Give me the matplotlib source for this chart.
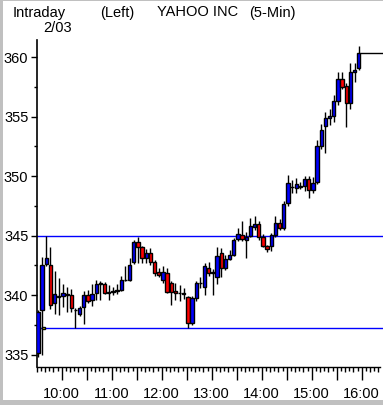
import matplotlib
matplotlib.use("Agg")
import matplotlib.pyplot as plt
import numpy as np
from matplotlib.markers import TICKDOWN
from matplotlib.patches import Rectangle

W, H, DPI = 383, 405, 100

title_left = "Intraday"
title_date = "2/03"
title_side = "(Left)"
title_name = "YAHOO INC"
title_freq = "(5-Min)"

hour_labels = ["10:00", "11:00", "12:00", "13:00", "14:00", "15:00", "16:00"]
price_ticks = [335, 340, 345, 350, 355, 360]
ref_level = 345.0
prev_close = 337.2

# 5-minute bars, 9:30 .. 15:55
opens = [335.1, 338.7, 342.6, 342.5, 339.3, 339.8, 339.95, 340.1, 340.0, 338.7,
         338.4, 339.0, 340.0, 339.6, 340.2, 340.9, 340.9, 340.2, 340.25, 340.35,
         340.4, 341.25, 341.3, 342.8, 344.45, 344.0, 343.1, 343.5, 342.8, 341.9,
         341.3, 341.85, 341.0, 340.3, 340.2, 340.15, 339.8, 337.65, 339.75, 341.0,
         340.7, 342.3, 341.85, 341.5, 343.5, 342.3, 343.05, 343.4, 344.7, 345.05,
         344.65, 344.95, 345.75, 346.0, 344.85, 344.1, 344.1, 345.05, 346.05, 345.6,
         347.7, 349.05, 349.0, 349.05, 349.2, 349.75, 348.8, 349.5, 352.5, 354.2,
         354.9, 355.05, 356.3, 358.15, 357.6, 356.1, 358.7, 359.05]
highs = [338.7, 343.2, 345.0, 344.0, 342.0, 341.4, 340.9, 340.7, 340.5, 338.9,
         339.1, 340.3, 340.4, 340.9, 341.3, 341.2, 341.1, 340.8, 340.7, 340.9,
         341.6, 342.4, 343.1, 344.6, 344.9, 344.1, 343.9, 343.95, 342.9, 342.3,
         342.4, 342.3, 341.2, 341.0, 340.8, 340.6, 339.9, 339.9, 341.2, 341.5,
         342.7, 342.8, 342.2, 344.0, 343.95, 343.4, 343.8, 344.8, 345.6, 346.2,
         345.3, 346.5, 346.6, 346.2, 345.1, 344.2, 345.2, 346.6, 346.4, 347.9,
         350.1, 349.7, 349.8, 349.5, 350.0, 350.0, 349.9, 353.0, 354.4, 355.4,
         355.6, 356.85, 358.7, 358.7, 357.8, 359.5, 359.5, 360.9]
lows = [334.8, 335.0, 342.4, 338.8, 338.4, 338.3, 339.0, 338.6, 338.6, 337.2,
        338.2, 337.6, 339.3, 339.1, 339.6, 339.6, 340.1, 339.6, 340.0, 340.1,
        340.3, 341.2, 341.2, 342.6, 342.7, 342.7, 342.7, 342.5, 341.6, 341.5,
        341.0, 340.2, 339.2, 339.6, 339.5, 339.7, 337.2, 337.5, 339.5, 340.6,
        340.0, 341.6, 340.0, 340.9, 341.5, 342.1, 342.9, 343.3, 344.5, 344.5,
        343.1, 344.9, 345.5, 344.6, 344.0, 343.6, 343.7, 344.9, 345.5, 345.5,
        347.5, 348.6, 348.55, 348.9, 348.7, 348.15, 348.6, 349.3, 352.3, 351.9,
        354.3, 354.5, 356.0, 357.3, 354.1, 355.6, 357.9, 358.9]
closes = [338.6, 342.5, 343.1, 339.2, 340.1, 339.9, 340.2, 340.0, 338.9, 338.7,
          338.9, 340.0, 339.5, 340.1, 340.9, 341.0, 340.2, 340.25, 340.35, 340.4,
          341.3, 341.3, 342.55, 344.45, 344.0, 343.1, 343.5, 342.8, 341.85, 341.65,
          341.9, 340.25, 340.25, 340.2, 340.15, 340.1, 337.65, 339.75, 341.0, 341.05,
          342.45, 341.85, 341.9, 343.3, 342.3, 343.0, 343.4, 344.65, 345.1, 344.7,
          344.9, 345.8, 346.0, 344.9, 344.1, 343.9, 345.05, 346.05, 345.6, 347.65,
          349.4, 349.1, 349.3, 349.2, 349.75, 348.85, 349.45, 352.5, 353.85, 354.9,
          355.05, 356.3, 358.15, 357.5, 356.1, 358.7, 358.95, 360.3]

plt.rcParams["font.family"] = ["Liberation Sans", "DejaVu Sans"]
FS = 10.5

o = np.array(opens)
h = np.array(highs)
l = np.array(lows)
c = np.array(closes)
minutes = 5 * np.arange(len(o))
centers = minutes + 1.5
colors = np.where(c >= o, "#0000ff", "#ff0000")

fig = plt.figure(figsize=(W / DPI, H / DPI), dpi=DPI)
ax_l, ax_r, ax_t, ax_b = 36.7, 380.0, 40.0, 367.0
ax = fig.add_axes([ax_l / W, 1 - ax_b / H, (ax_r - ax_l) / W, (ax_b - ax_t) / H])

px_per_min = 50 / 60
ax.set_xlim(0, (ax_r - ax_l) / px_per_min)
ax.set_ylim(333.95, 361.43)

ax.axhline(ref_level, color="#0000ff", lw=1, zorder=1, xmax=1.01, clip_on=False)
ax.axhline(prev_close, color="#0000ff", lw=1, zorder=1, xmax=1.01, clip_on=False)

ax.vlines(centers, l, h, color="black", lw=1, zorder=2)
ax.bar(centers, c - o, bottom=o, width=4, color=colors, edgecolor="black",
       linewidth=1, zorder=3)

# previous close marker
ax.add_patch(Rectangle((minutes[1] + 1, prev_close - 0.02), 4.5, 0.17,
                       facecolor="#ffff00", edgecolor="black", lw=1, zorder=4))

# last price line
ax.hlines(c[-1], centers[-1] + 2, ax.get_xlim()[1] + 4, color="black", lw=1,
          zorder=4, clip_on=False)

for s in ("top", "right"):
    ax.spines[s].set_visible(False)
ax.spines["left"].set_linewidth(1.2)
ax.spines["bottom"].set_linewidth(1)

# x ticks: long every 30 min, medium every 10, short every 5
hour_mins = [(int(s.split(":")[0]) - 9) * 60 - 30 for s in hour_labels]
major = np.arange(30, ax.get_xlim()[1], 30)
labels = [hour_labels[hour_mins.index(m)] if m in hour_mins else "" for m in major]
ax.set_xticks(major, labels)
ax.set_xticks(np.arange(0, ax.get_xlim()[1], 10), minor=True)
short = np.arange(5, ax.get_xlim()[1], 10)
ax.plot(short, np.zeros_like(short), ls="none", marker=TICKDOWN, ms=2.6,
        mew=1, color="black", transform=ax.get_xaxis_transform(), clip_on=False)
ax.tick_params(axis="x", which="major", length=9.4, width=1, pad=5, labelsize=FS)
ax.tick_params(axis="x", which="minor", length=3.6, width=1)

ax.set_yticks(price_ticks, [str(p) for p in price_ticks])
ax.set_yticks(np.array(price_ticks[:-1]) + 2.5, minor=True)
ax.tick_params(axis="y", which="major", length=4.5, width=1, pad=1.5, labelsize=FS)
ax.tick_params(axis="y", which="minor", length=2.2, width=1)

def ftext(x, y, s):
    fig.text(x / W, 1 - y / H, s, fontsize=FS, ha="left", va="baseline")

ftext(12.7, 16.5, title_left)
ftext(43, 32.5, title_date)
ftext(100, 16.5, title_side)
ftext(156.7, 16.5, title_name)
ftext(249, 16.5, title_freq)

grey = "#c0c0c0"
fig.add_artist(Rectangle((0, 0), 3 / W, 1, transform=fig.transFigure,
                         facecolor=grey, edgecolor="none"))
fig.add_artist(Rectangle((0, 0), 1, 5 / H, transform=fig.transFigure,
                         facecolor=grey, edgecolor="none"))
fig.add_artist(Rectangle((0, 1 - 1 / H), 1, 1 / H, transform=fig.transFigure,
                         facecolor=grey, edgecolor="none"))

fig.savefig("out.png", dpi=DPI)
